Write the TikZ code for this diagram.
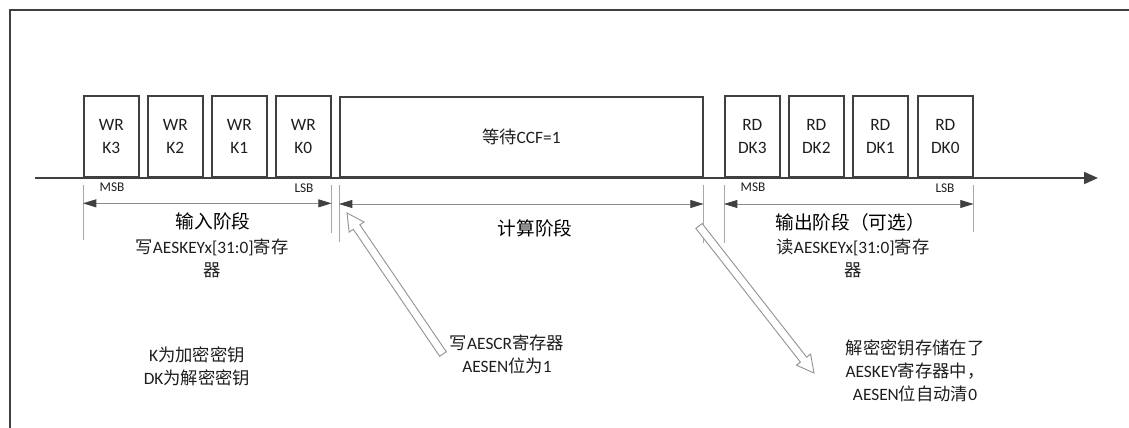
\documentclass[tikz,border=0pt]{standalone}
\usepackage{fontspec}
\setmainfont{Carlito}
\newfontfamily\cjk{Noto Sans CJK SC}
\usetikzlibrary{arrows.meta,calc}
\newcommand\zhs[1]{{\cjk #1}}
\definecolor{edge}{HTML}{404040}
\definecolor{extc}{HTML}{A8A8A8}
\definecolor{dimc}{HTML}{8C8C8C}
\definecolor{txtc}{HTML}{1E1E1E}
\definecolor{arrc}{HTML}{959595}
\newcommand\hollowarrow[2]{%
  \coordinate (hb) at ($(#2)!12.75pt!(#1)$);
  \filldraw[fill=white, draw=arrc, line width=0.7pt, line join=miter]
    ($(#1)!3pt!-90:(#2)$) -- ($(hb)!3pt!90:(#1)$) -- ($(hb)!6.75pt!90:(#1)$) --
    (#2) -- ($(hb)!6.75pt!-90:(#1)$) -- ($(hb)!3pt!-90:(#1)$) --
    ($(#1)!3pt!90:(#2)$) -- cycle;}
\begin{document}
\begin{tikzpicture}[x=0.75pt,y=-0.75pt,
  txt/.style={text=txtc, font=\fontsize{13}{17.25}\selectfont, align=center, inner sep=0pt},
  ttl/.style={txt, text=black, font=\fontsize{14}{17.25}\selectfont},
  small/.style={text=txtc, font=\fontsize{10}{11}\selectfont, inner sep=0pt},
  box/.style={draw=edge, line width=1.2pt, minimum width=41.25pt, minimum height=60.75pt,
    anchor=south west, txt},
  extl/.style={draw=extc, line width=0.6pt},
  dim/.style={draw=dimc, line width=0.6pt,
    arrows={Triangle[length=10pt,width=6pt,color=edge]-Triangle[length=10pt,width=6pt,color=edge]}}
]
\useasboundingbox (0,0) rectangle (1129,428);
% frame
\draw[edge, line width=1.5pt] (10,428) -- (10,10) -- (1129,10);
% timeline
\coordinate (t0) at (35,178);
\coordinate (t1) at (1098,178);
\draw[edge, line width=1.5pt, -{Triangle[length=10.5pt,width=9pt]}] (t0) -- (t1);
% boxes
\node[box] (wk3) at (83,178) {WR\\K3};
\node[box] (wk2) at (147,178) {WR\\K2};
\node[box] (wk1) at (211,178) {WR\\K1};
\node[box] (wk0) at (275,178) {WR\\K0};
\node[box, minimum width=272.25pt, minimum height=60pt] (wt) at (339,178) {\zhs{等待}CCF=1};
\node[box] (rd3) at (724,178) {RD\\DK3};
\node[box] (rd2) at (788,178) {RD\\DK2};
\node[box] (rd1) at (852,178) {RD\\DK1};
\node[box] (rd0) at (917,178) {RD\\DK0};
% MSB / LSB
\node[small] (m1) at (112,187) {MSB};
\node[small] (l1) at (304,188) {LSB};
\node[small] (m2) at (753,187) {MSB};
\node[small] (l2) at (945,188) {LSB};
% extension lines
\draw[extl] ([yshift=-5.25pt]wk3.south west) -- ++(0,55);
\draw[extl] ([yshift=-5.25pt]wk0.south east) -- ++(0,48);
\draw[extl] ([yshift=-5.25pt]wt.south west) -- ++(0,57);
\draw[extl] ([yshift=-5.25pt]wt.south east) -- ++(0,58);
\draw[extl] ([yshift=-5.25pt]rd3.south west) -- ++(0,58);
\draw[extl] ([yshift=-5.25pt]rd0.south east) -- ++(0,47);
% dimension arrows
\draw[dim] ([yshift=-19pt]wk3.south west) -- ([yshift=-19pt]wk0.south east);
\draw[dim] ([yshift=-19.5pt]wt.south west) -- ([yshift=-19.5pt]wt.south east);
\draw[dim] ([yshift=-19.5pt]rd3.south west) -- ([yshift=-19.5pt]rd0.south east);
% phase labels
\node[ttl] (p1) at (213,221) {\zhs{输入阶段}};
\node[txt] (p1b) at (212,258.5) {\zhs{写}AESKEYx[31:0]\zhs{寄存}\\\zhs{器}};
\node[ttl] (p2) at (535,228) {\zhs{计算阶段}};
\node[ttl] (p3) at (850,222) {\zhs{输出阶段（可选）}};
\node[txt] (p3b) at (853,258) {\zhs{读}AESKEYx[31:0]\zhs{寄存}\\\zhs{器}};
% notes
\node[txt] (n1) at (197,366) {K\zhs{为加密密钥}\\DK\zhs{为解密密钥}};
\node[txt] (n2) at (507,354.5) {\zhs{写}AESCR\zhs{寄存器}\\AESEN\zhs{位为}1};
\node[txt] (n3) at (915,371) {\zhs{解密密钥存储在了}\\AESKEY\zhs{寄存器中，}\\AESEN\zhs{位自动清}0};
% hollow arrows
\coordinate (a1tail) at (443,354);
\coordinate (a1tip) at (347,213);
\coordinate (a2tail) at (699,226);
\coordinate (a2tip) at (814,373);
\hollowarrow{a1tail}{a1tip}
\hollowarrow{a2tail}{a2tip}
\end{tikzpicture}
\end{document}
